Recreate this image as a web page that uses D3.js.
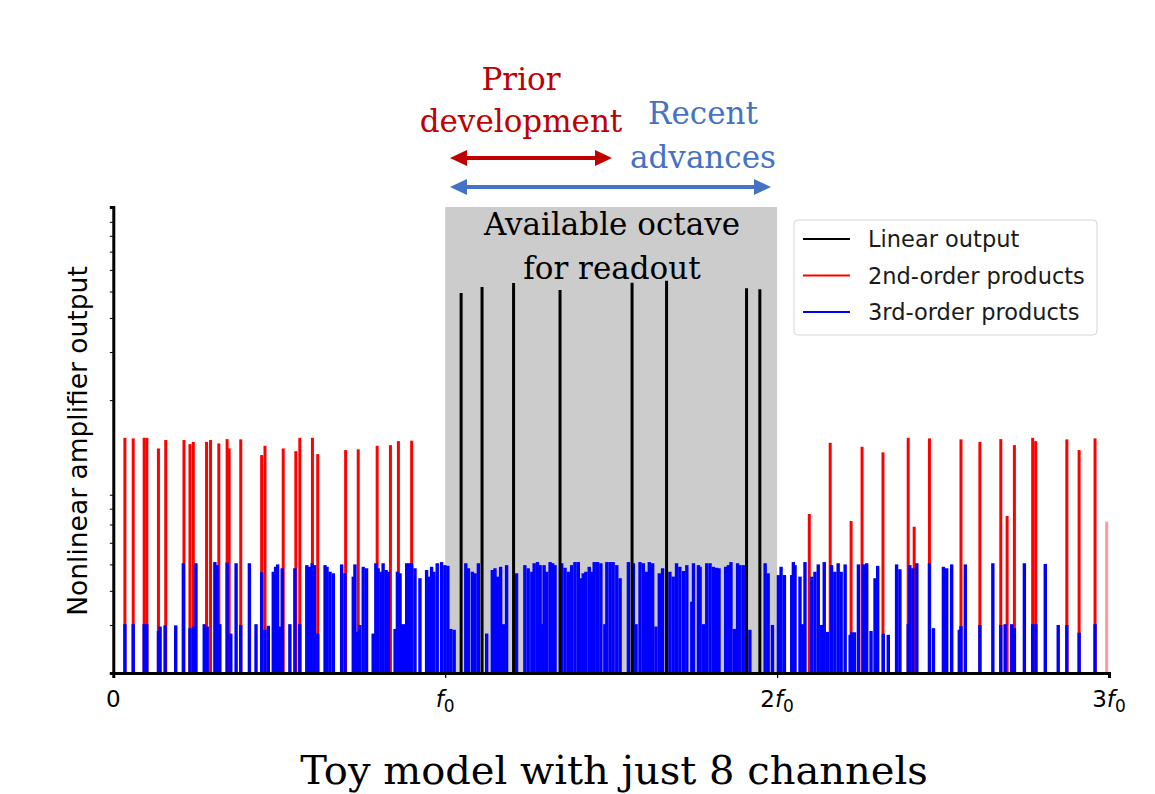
<!DOCTYPE html>
<html>
<head>
<meta charset="utf-8">
<script src="https://cdn.jsdelivr.net/npm/d3@7"></script>
<style>
  body { margin: 0; background: white; }
  svg { display: block; }
</style>
</head>
<body>
<svg width="1155" height="794"></svg>
<script>
var width = 1155, height = 794;

// 8 readout channels (units of f0) and their linear output
var channelFreqs = [1.048, 1.111, 1.206, 1.346, 1.563, 1.667, 1.908, 1.948];
var channelAmps  = [4.94, 5.19, 5.37, 5.06, 5.38, 5.47, 5.14, 5.10];

// 2nd-order intermodulation products
var secondFreqs = [0.035, 0.060, 0.093, 0.101, 0.136, 0.158, 0.213, 0.231, 0.241, 0.281,
  0.293, 0.318, 0.343, 0.349, 0.384, 0.447, 0.457, 0.512, 0.550, 0.562,
  0.600, 0.616, 0.700, 0.738, 0.795, 0.835, 0.859, 0.899,
  2.097, 2.160, 2.223, 2.256, 2.319, 2.395, 2.413, 2.459, 2.554, 2.611,
  2.674, 2.693, 2.715, 2.770, 2.779, 2.873, 2.910, 2.958, 2.993];
var secondAmps = [1.455, 1.448, 1.455, 1.455, 1.33, 1.428, 1.428, 1.38, 1.406, 1.406,
  1.428, 1.388, 1.439, 1.33, 1.436, 1.258, 1.36, 1.33, 1.30, 1.455,
  1.455, 1.268, 1.312, 1.32, 1.36, 1.368, 1.415, 1.42,
  0.765, 1.395, 0.721, 1.349, 1.287, 1.455, 0.687, 1.448, 1.436, 1.406,
  1.439, 0.752, 1.368, 1.455, 1.415, 1.436, 1.312, 1.448, 0.717];

// 3rd-order intermodulation products
var thirdFreqs = [0.035, 0.060, 0.093, 0.101, 0.136, 0.141, 0.156, 0.188, 0.211, 0.231,
  0.241, 0.249, 0.274, 0.283, 0.306, 0.313, 0.321, 0.343, 0.354, 0.370,
  0.384, 0.410, 0.430, 0.447, 0.457, 0.467, 0.482, 0.489, 0.495, 0.504,
  0.509, 0.532, 0.547, 0.562, 0.583, 0.591, 0.599, 0.606, 0.616, 0.638,
  0.644, 0.653, 0.663, 0.688, 0.698, 0.723, 0.728, 0.736, 0.743, 0.753,
  0.763, 0.783, 0.791, 0.798, 0.807, 0.813, 0.822, 0.829, 0.849, 0.856,
  0.864, 0.871, 0.879, 0.884, 0.891, 0.899, 0.909, 0.924, 0.944, 0.951,
  0.959, 0.966, 0.976, 0.989, 0.999, 1.008, 1.017, 1.027, 1.062, 1.070,
  1.082, 1.090, 1.100, 1.125, 1.142, 1.150, 1.158, 1.167, 1.175, 1.185,
  1.215, 1.240, 1.250, 1.261, 1.268, 1.278, 1.286, 1.294, 1.298, 1.306,
  1.316, 1.324, 1.331, 1.351, 1.361, 1.371, 1.381, 1.391, 1.401, 1.409,
  1.416, 1.424, 1.434, 1.441, 1.449, 1.459, 1.469, 1.481, 1.487, 1.497,
  1.506, 1.517, 1.527, 1.552, 1.567, 1.575, 1.587, 1.597, 1.607, 1.615,
  1.625, 1.635, 1.645, 1.655, 1.677, 1.687, 1.697, 1.707, 1.718, 1.728,
  1.743, 1.748, 1.763, 1.768, 1.778, 1.788, 1.798, 1.808, 1.818, 1.825,
  1.845, 1.853, 1.861, 1.871, 1.881, 1.888, 1.898, 1.918, 1.964, 1.973,
  1.986, 2.004, 2.012, 2.022, 2.044, 2.049, 2.054, 2.069, 2.076, 2.084,
  2.104, 2.114, 2.124, 2.134, 2.142, 2.152, 2.164, 2.174, 2.184, 2.193,
  2.205, 2.220, 2.225, 2.233, 2.245, 2.260, 2.270, 2.283, 2.295, 2.303,
  2.320, 2.335, 2.360, 2.370, 2.395, 2.400, 2.409, 2.421, 2.459, 2.471,
  2.501, 2.511, 2.526, 2.549, 2.554, 2.567, 2.611, 2.650, 2.674, 2.687,
  2.707, 2.715, 2.745, 2.770, 2.780, 2.808, 2.847, 2.873, 2.910, 2.958];
var thirdAmps = [0.302, 0.302, 0.302, 0.302, 0.285, 0.296, 0.299, 0.299, 0.505, 0.292,
  0.296, 0.505, 0.302, 0.296, 0.51, 0.497, 0.302, 0.508, 0.279, 0.505,
  0.30, 0.505, 0.302, 0.468, 0.288, 0.298, 0.47, 0.49, 0.50, 0.296,
  0.484, 0.302, 0.484, 0.302, 0.497, 0.49, 0.505, 0.497, 0.279, 0.497,
  0.49, 0.47, 0.464, 0.50, 0.464, 0.451, 0.50, 0.283, 0.30, 0.49,
  0.484, 0.279, 0.505, 0.484, 0.47, 0.505, 0.477, 0.47, 0.29, 0.47,
  0.464, 0.302, 0.302, 0.505, 0.505, 0.505, 0.484, 0.445, 0.477, 0.451,
  0.49, 0.47, 0.505, 0.51, 0.497, 0.494, 0.29, 0.288, 0.505, 0.484,
  0.47, 0.464, 0.505, 0.279, 0.477, 0.484, 0.451, 0.49, 0.302, 0.497,
  0.464, 0.497, 0.484, 0.47, 0.505, 0.51, 0.497, 0.302, 0.497, 0.47,
  0.51, 0.505, 0.497, 0.505, 0.486, 0.47, 0.497, 0.51, 0.51, 0.445,
  0.464, 0.47, 0.49, 0.47, 0.51, 0.51, 0.505, 0.302, 0.51, 0.51,
  0.51, 0.497, 0.445, 0.51, 0.505, 0.302, 0.51, 0.505, 0.47, 0.51,
  0.505, 0.296, 0.464, 0.484, 0.47, 0.451, 0.505, 0.49, 0.473, 0.497,
  0.365, 0.505, 0.497, 0.49, 0.302, 0.505, 0.505, 0.49, 0.486, 0.484,
  0.49, 0.497, 0.51, 0.29, 0.505, 0.497, 0.497, 0.288, 0.505, 0.464,
  0.30, 0.457, 0.49, 0.457, 0.457, 0.51, 0.497, 0.451, 0.302, 0.51,
  0.451, 0.47, 0.50, 0.30, 0.51, 0.283, 0.497, 0.47, 0.505, 0.47,
  0.50, 0.276, 0.282, 0.282, 0.50, 0.50, 0.505, 0.285, 0.445, 0.494,
  0.279, 0.276, 0.50, 0.48, 0.302, 0.497, 0.484, 0.505, 0.505, 0.292,
  0.49, 0.484, 0.50, 0.288, 0.297, 0.50, 0.30, 0.505, 0.30, 0.302,
  0.302, 0.292, 0.505, 0.302, 0.302, 0.502, 0.30, 0.30, 0.281, 0.302];

var yMinorTicks = [0.2, 0.3, 0.4, 0.5, 0.6, 0.7, 0.8, 0.9, 2, 3, 4, 5, 6, 7, 8, 9];
var xTicks = [0, 1, 2, 3];
var xTickLabels = [["0", ""], ["", "f"], ["2", "f"], ["3", "f"]];

var legendLabels = ["Linear output", "2nd-order products", "3rd-order products"];
var legendColors = ["black", "#ff0000", "#0000ff"];

var svg = d3.select('svg');

var x = d3.scaleLinear().domain([0, 3]).range([113.3, 1109]);
var y = d3.scaleLog().domain([0.2, 10.2]).range([673, 207]);

function zip(a, b) { return a.map(function(d, i) { return {f: d, a: b[i]}; }); }

// readout octave
svg.append('rect')
  .attr('x', x(1)).attr('y', y(10.2))
  .attr('width', x(2) - x(1)).attr('height', y(0.2) - y(10.2))
  .attr('fill', '#cccccc');

function stems(data, color, w, cls) {
  svg.append('g').selectAll('.' + cls)
    .data(data)
    .enter().append('line')
    .attr('class', cls)
    .attr('x1', function(d) { return x(d.f); })
    .attr('x2', function(d) { return x(d.f); })
    .attr('y1', y(0.2))
    .attr('y2', function(d) { return y(d.a); })
    .attr('stroke', color)
    .attr('stroke-width', w)
    .attr('stroke-opacity', function(d) { return d.f > 2.98 ? 0.4 : 1; });
}

stems(zip(secondFreqs, secondAmps), '#ff0000', 3, 'second');
stems(zip(thirdFreqs, thirdAmps), '#0000ff', 3.4, 'third');
stems(zip(channelFreqs, channelAmps), 'black', 3, 'linear');

// axes
var xAxis = svg.append('g')
  .attr('transform', 'translate(0,' + y(0.2) + ')')
  .call(d3.axisBottom(x).tickValues(xTicks).tickSize(5).tickFormat(''));
xAxis.select('.domain').attr('stroke-width', 3);
xAxis.selectAll('.tick line').attr('stroke-width', 1.2);

svg.append('g').selectAll('.xlab')
  .data(xTicks)
  .enter().append('text')
  .attr('class', 'xlab')
  .attr('x', function(d) { return x(d); })
  .attr('y', 707)
  .attr('text-anchor', 'middle')
  .style('font-family', 'DejaVu Sans')
  .style('font-size', '23px')
  .each(function(d, i) {
    var t = d3.select(this), lab = xTickLabels[i];
    if (lab[0]) t.append('tspan').text(lab[0]);
    if (lab[1]) {
      t.append('tspan').style('font-style', 'italic').text(lab[1]);
      t.append('tspan').attr('dy', 5).style('font-size', '17px').text('0');
    }
  });

var yAxis = svg.append('g')
  .attr('transform', 'translate(' + x(0) + ',0)')
  .call(d3.axisLeft(y).tickValues(yMinorTicks).tickSize(3.5).tickFormat(''));
yAxis.select('.domain').attr('stroke-width', 3);
yAxis.selectAll('.tick line').attr('stroke-width', 1);

svg.append('text')
  .attr('transform', 'translate(87,' + 441 + ')rotate(-90)')
  .attr('text-anchor', 'middle')
  .style('font-family', 'DejaVu Sans')
  .style('font-size', '26.5px')
  .text('Nonlinear amplifier output');

// legend
var lg = svg.append('g');
lg.append('rect')
  .attr('x', 794).attr('y', 220).attr('width', 303).attr('height', 115)
  .attr('rx', 4)
  .attr('fill', 'white').attr('fill-opacity', 0.8)
  .attr('stroke', '#d6d6d6').attr('stroke-width', 1);
legendLabels.forEach(function(l, i) {
  var ly = 239 + i * 36.5;
  lg.append('line')
    .attr('x1', 803).attr('x2', 850).attr('y1', ly).attr('y2', ly)
    .attr('stroke', legendColors[i]).attr('stroke-width', 2);
  lg.append('text')
    .attr('x', 868).attr('y', ly + 8)
    .style('font-family', 'DejaVu Sans')
    .style('font-size', '22.5px')
    .attr('fill', '#1a1a1a')
    .text(l);
});

// annotations above the plot
var serif = 'DejaVu Serif';
function label(txt, cx, by, color, size) {
  svg.append('text')
    .attr('x', cx).attr('y', by)
    .attr('text-anchor', 'middle')
    .style('font-family', serif)
    .style('font-size', size + 'px')
    .attr('fill', color)
    .text(txt);
}
label('Prior', 521, 90, '#c00000', 31);
label('development', 521, 132, '#c00000', 31);
label('Recent', 703, 124, '#4472c4', 31);
label('advances', 703, 168, '#4472c4', 31);
label('Available octave', 612, 235, 'black', 31);
label('for readout', 612, 279, 'black', 31);
label('Toy model with just 8 channels', 614, 784, 'black', 40);

function arrow(x0, x1, yy, color) {
  var hl = 17, hw = 8;
  svg.append('line')
    .attr('x1', x0 + hl - 2).attr('x2', x1 - hl + 2).attr('y1', yy).attr('y2', yy)
    .attr('stroke', color).attr('stroke-width', 4);
  svg.append('path')
    .attr('d', 'M' + x0 + ',' + yy + 'L' + (x0 + hl) + ',' + (yy - hw) + 'L' + (x0 + hl) + ',' + (yy + hw) + 'Z')
    .attr('fill', color);
  svg.append('path')
    .attr('d', 'M' + x1 + ',' + yy + 'L' + (x1 - hl) + ',' + (yy - hw) + 'L' + (x1 - hl) + ',' + (yy + hw) + 'Z')
    .attr('fill', color);
}
arrow(450, 612, 158, '#c00000');
arrow(450, 771, 187, '#4472c4');
</script>
</body>
</html>
